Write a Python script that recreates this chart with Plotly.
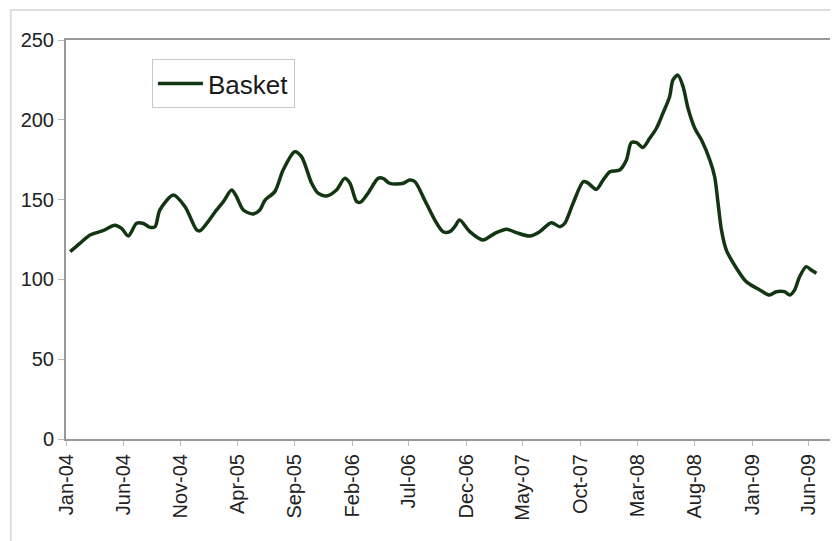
import plotly.graph_objects as go

dates = [
    "2004-01-12", "2004-02-07", "2004-03-05", "2004-04-08", "2004-05-10", "2004-05-28",
    "2004-06-15", "2004-07-07", "2004-07-25", "2004-08-12", "2004-08-25", "2004-09-07",
    "2004-10-13", "2004-11-13", "2004-12-14", "2004-12-23", "2005-02-05", "2005-02-23",
    "2005-03-17", "2005-03-30", "2005-04-17", "2005-05-13", "2005-05-31", "2005-06-14",
    "2005-07-10", "2005-08-01", "2005-09-01", "2005-09-19", "2005-10-16", "2005-11-02",
    "2005-11-25", "2005-12-21", "2006-01-12", "2006-01-26", "2006-02-13", "2006-02-24",
    "2006-03-15", "2006-04-11", "2006-04-24", "2006-05-12", "2006-06-17", "2006-07-04",
    "2006-07-18", "2006-08-13", "2006-09-09", "2006-10-01", "2006-10-19", "2006-11-01",
    "2006-11-14", "2006-12-11", "2007-01-15", "2007-02-16", "2007-03-19", "2007-04-14",
    "2007-05-20", "2007-06-15", "2007-07-16", "2007-08-08", "2007-08-21", "2007-09-12",
    "2007-10-09", "2007-10-21", "2007-11-13", "2007-12-01", "2007-12-19", "2008-01-14",
    "2008-02-01", "2008-02-14", "2008-02-28", "2008-03-16", "2008-04-03", "2008-04-21",
    "2008-05-08", "2008-05-26", "2008-06-04", "2008-06-17", "2008-07-01", "2008-07-14",
    "2008-08-01", "2008-08-19", "2008-09-10", "2008-09-23", "2008-10-02", "2008-10-11",
    "2008-10-24", "2008-11-20", "2008-12-16", "2009-01-21", "2009-02-16", "2009-03-06",
    "2009-03-28", "2009-04-11", "2009-04-24", "2009-05-07", "2009-05-25", "2009-06-07",
    "2009-06-21",
]
basket = [
    117.4, 122.6, 127.8, 130.5, 134.0, 132.0,
    127.2, 135.2, 135.0, 132.6, 133.0, 143.5,
    152.9, 145.5, 131.0, 130.5, 143.5, 148.7,
    156.0, 151.8, 143.5, 141.0, 143.5, 149.7,
    155.0, 168.5, 180.0, 176.9, 160.2, 154.0,
    152.3, 156.0, 163.3, 160.2, 148.7, 148.5,
    154.0, 163.3, 163.3, 160.2, 160.2, 162.3,
    161.2, 149.7, 137.2, 129.9, 129.9, 133.0,
    137.2, 129.9, 124.7, 128.9, 131.4, 129.3,
    127.2, 129.9, 135.5, 133.0, 135.2, 147.7,
    161.2, 160.5, 156.4, 162.3, 167.5, 168.5,
    174.8, 185.7, 185.7, 182.7, 188.4, 194.7,
    204.0, 214.5, 225.0, 228.0, 220.7, 207.2,
    194.7, 187.3, 174.8, 164.3, 147.7, 131.0,
    118.4, 107.0, 98.6, 93.4, 90.2, 92.3,
    92.3, 90.2, 93.4, 101.7, 108.0, 105.9,
    103.8,
]

tick_dates = ["2004-01-01", "2004-06-01", "2004-11-01", "2005-04-01", "2005-09-01",
              "2006-02-01", "2006-07-01", "2006-12-01", "2007-05-01", "2007-10-01",
              "2008-03-01", "2008-08-01", "2009-01-01", "2009-06-01"]
tick_labels = ["Jan-04", "Jun-04", "Nov-04", "Apr-05", "Sep-05", "Feb-06", "Jul-06",
               "Dec-06", "May-07", "Oct-07", "Mar-08", "Aug-08", "Jan-09", "Jun-09"]
y_ticks = [0, 50, 100, 150, 200, 250]

fig = go.Figure()
fig.add_trace(go.Scatter(
    x=dates, y=basket, mode="lines", name="Basket",
    line=dict(color="#123512", width=3.5, shape="spline", smoothing=0.8),
))

axis_font = dict(family="Liberation Sans, Arial, sans-serif", size=20, color="#222")

fig.update_layout(
    width=830, height=533,
    margin=dict(l=58, r=5, t=32, b=102),
    paper_bgcolor="white", plot_bgcolor="white",
    showlegend=True,
    legend=dict(x=0.112, y=0.952, xanchor="left", yanchor="top",
                bordercolor="#c8c8c8", borderwidth=1, bgcolor="white",
                itemwidth=45,
                font=dict(family="Liberation Sans, Arial, sans-serif", size=26, color="#1a1a1a")),
    xaxis=dict(type="date", range=["2004-01-01", "2009-08-04"],
               tickvals=tick_dates, ticktext=tick_labels, tickangle=-90,
               tickfont=axis_font, showgrid=False, zeroline=False, automargin=False,
               showline=True, linecolor="#999", linewidth=2, mirror=True,
               ticks="outside", ticklen=5, tickcolor="#bbb"),
    yaxis=dict(range=[0, 250], tickvals=y_ticks, tickfont=axis_font,
               showgrid=False, zeroline=False, automargin=False,
               showline=True, linecolor="#999", linewidth=2, mirror=True,
               ticks="outside", ticklen=6, tickcolor="#bbb"),
    shapes=[dict(type="rect", xref="paper", yref="paper",
                 x0=-0.072, x1=1.02, y0=-0.26, y1=1.075,
                 line=dict(color="#dddddd", width=2), layer="below")],
)

fig.write_html("out.html")
